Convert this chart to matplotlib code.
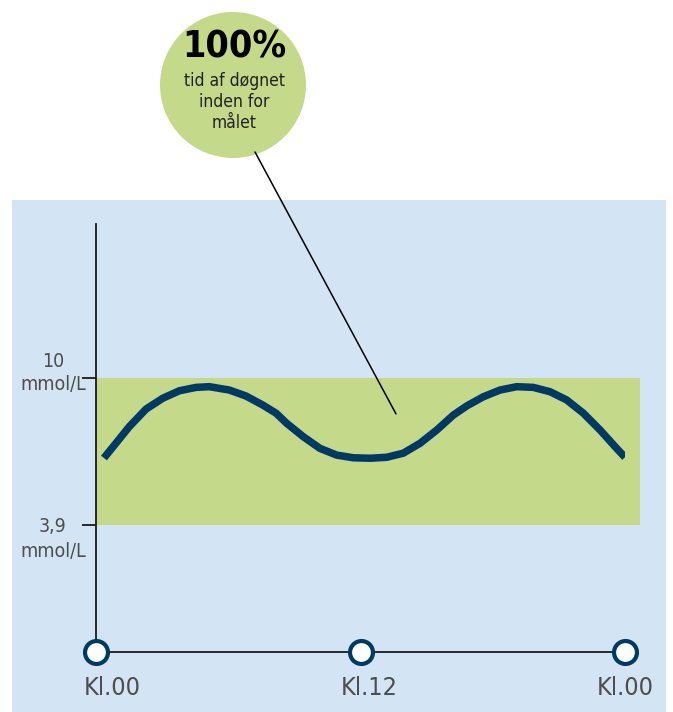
import matplotlib.pyplot as plt
from matplotlib.patches import Rectangle, Circle

# glukose over et døgn (timer, mmol/L)
hours = [0.36, 0.91, 1.51, 2.27, 3.03, 3.78, 4.54, 5.14, 6.05, 6.81, 7.56,
         8.17, 8.65, 9.41, 10.16, 10.92, 11.67, 12.43, 13.19, 13.94, 14.70,
         15.46, 16.21, 16.82, 17.57, 18.33, 19.09, 19.84, 20.60, 21.35, 22.11,
         22.87, 23.62, 24.00]
glucose = [6.68, 7.30, 7.98, 8.71, 9.16, 9.47, 9.61, 9.64, 9.50, 9.25, 8.88,
           8.54, 8.12, 7.56, 7.08, 6.80, 6.69, 6.67, 6.71, 6.88, 7.29,
           7.84, 8.46, 8.84, 9.22, 9.50, 9.64, 9.61, 9.43, 9.09, 8.54,
           7.84, 7.08, 6.71]

target_low, target_high = 3.9, 10
tick_hours = [0, 12, 24]
tick_labels = ['Kl.00', 'Kl.12', 'Kl.00']
y_labels = ['10', '3,9']
pct_text = '100%'
bubble_text = 'tid af døgnet\ninden for\nmålet'

navy = '#003a63'
green = '#c5d98a'
blue = '#d3e4f5'
grey = '#4d4d4d'
cond = dict(family='DejaVu Sans', stretch='condensed')

W, H = 673, 712
fig = plt.figure(figsize=(W / 100, H / 100), dpi=100)

# baggrund i pixel-koordinater
bg = fig.add_axes([0, 0, 1, 1])
bg.set_xlim(0, W)
bg.set_ylim(H, 0)
bg.axis('off')
bg.add_patch(Rectangle((12, 200), 654, 512, color=blue, lw=0))
bg.add_patch(Circle((233, 85), 73, color=green, lw=0))
bg.text(234, 47, pct_text, ha='center', va='center', fontsize=27,
        weight='bold', color='black', **cond)
bg.text(234, 102, bubble_text, ha='center', va='center', fontsize=12.5,
        color='#222222', linespacing=1.2, **cond)

# selve grafen
ax = fig.add_axes([96 / W, (H - 652) / H, 529 / W, 428 / H])
ax.patch.set_visible(False)
ax.set_xlim(0, 24)
ax.set_ylim(-1.37, 16.39)
for s in ['top', 'right']:
    ax.spines[s].set_visible(False)
for s in ['left', 'bottom']:
    ax.spines[s].set_linewidth(1.3)
    ax.spines[s].set_color('#1a1a1a')

ax.add_patch(Rectangle((0, target_low), 24.68, target_high - target_low,
                       color=green, lw=0, clip_on=False, zorder=1))
ax.plot(hours, glucose, color=navy, lw=5.4, solid_capstyle='butt',
        solid_joinstyle='round', zorder=3)

ax.plot(tick_hours, [-1.37] * 3, 'o', ms=16.5, mfc='white', mec=navy,
        mew=3, clip_on=False, zorder=5)

ax.set_xticks([])
ax.set_yticks([target_high, target_low])
ax.set_yticklabels([])
ax.tick_params(axis='y', length=10, width=1.3, color='#1a1a1a')

for h, lab, dx in zip(tick_hours, tick_labels, [12, 6, 0]):
    ax.annotate(lab, xy=(h, -1.37), xytext=(dx, -26), textcoords='offset points',
                ha='center', va='center', fontsize=18, color=grey,
                annotation_clip=False, **cond)

for val, lab, d1, d2 in [(target_high, y_labels[0], 12, -5),
                         (target_low, y_labels[1], -1, -19)]:
    ax.annotate(lab, xy=(0, val), xytext=(-31, d1), textcoords='offset points',
                ha='center', va='center', fontsize=14, color=grey,
                annotation_clip=False, **cond)
    ax.annotate('mmol/L', xy=(0, val), xytext=(-31, d2), textcoords='offset points',
                ha='center', va='center', fontsize=14, color=grey,
                annotation_clip=False, **cond)

# streg fra boblen ned i grafen
ax.annotate('', xy=(13.61, 8.51), xytext=(255, H - 152), textcoords='figure pixels',
            arrowprops=dict(arrowstyle='-', lw=1.1, color='black',
                            shrinkA=0, shrinkB=0), zorder=4)

fig.savefig('out.png', dpi=100)
